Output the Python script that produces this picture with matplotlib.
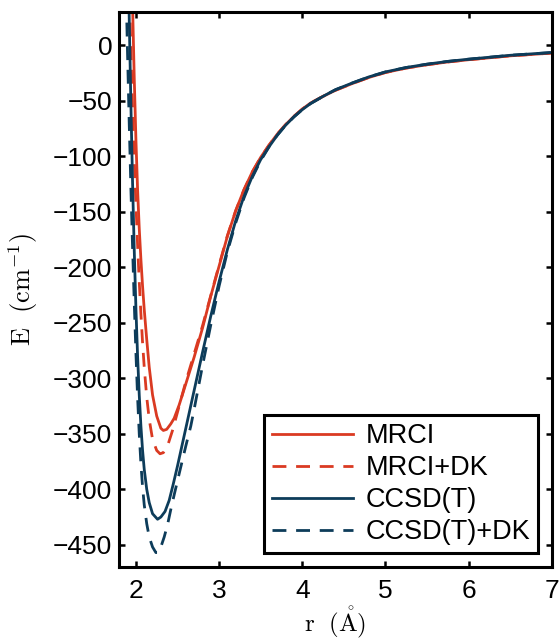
import matplotlib
matplotlib.use("Agg")
import matplotlib.pyplot as plt

# potential energy curves, E in cm^-1 vs r in Angstrom
r_mrci = [1.92, 1.94, 1.96, 1.98, 2.00, 2.02, 2.04, 2.06, 2.08, 2.10, 2.13, 2.16, 2.20,
          2.25, 2.30, 2.33, 2.37, 2.42, 2.46, 2.52, 2.60, 2.70, 2.80, 2.90, 3.00, 3.10,
          3.20, 3.30, 3.40, 3.50, 3.60, 3.70, 3.80, 3.90, 4.00, 4.10, 4.25, 4.40, 4.60,
          4.80, 5.00, 5.25, 5.50, 5.75, 6.00, 6.50, 7.00]
e_mrci = [190, 110, 35, -30, -85, -130, -165, -193, -217, -238, -265, -290, -315,
          -334, -345, -347, -346, -341, -336, -324, -305, -281, -255, -226, -199, -172,
          -149, -130, -114, -101, -90, -80, -71.5, -64, -57.5, -52, -46, -40.5, -34.5,
          -29, -24.5, -20.5, -17.5, -15, -13, -9.5, -7]

r_mrci_dk = [1.90, 1.92, 1.94, 1.96, 1.98, 2.00, 2.02, 2.04, 2.06, 2.08, 2.10, 2.13, 2.16,
             2.20, 2.25, 2.29, 2.33, 2.38, 2.44, 2.52, 2.60, 2.70, 2.80, 2.90, 3.00, 3.10,
             3.20, 3.30, 3.40, 3.50, 3.60, 3.70, 3.80, 3.90, 4.00, 4.10, 4.25, 4.40, 4.60,
             4.80, 5.00, 5.25, 5.50, 5.75, 6.00, 6.50, 7.00]
e_mrci_dk = [120, 55, -5, -58, -103, -143, -180, -213, -242, -268, -290, -317, -337,
             -355, -365, -368, -367, -361, -347, -325, -303, -278, -253, -225.5, -198, -171.5,
             -149, -130, -114, -101, -90, -80, -71.5, -64, -57.5, -52, -46, -40.5, -34.5,
             -29, -24.5, -20.5, -17.5, -15, -13, -9.5, -7]

r_cc = [1.90, 1.92, 1.94, 1.96, 1.98, 2.00, 2.02, 2.04, 2.06, 2.08, 2.10, 2.13, 2.16,
        2.20, 2.26, 2.30, 2.35, 2.40, 2.45, 2.50, 2.55, 2.60, 2.70, 2.80, 2.90, 3.00,
        3.10, 3.20, 3.30, 3.40, 3.50, 3.60, 3.70, 3.80, 3.90, 4.00, 4.10, 4.25, 4.40,
        4.60, 4.80, 5.00, 5.25, 5.50, 5.75, 6.00, 6.50, 7.00]
e_cc = [105, 22, -55, -125, -185, -237, -280, -315, -343, -365, -382, -400, -412,
        -422, -427, -425, -420, -410, -395, -379, -362, -345, -311, -277, -244, -213,
        -184, -158, -136, -118, -103, -91.5, -81, -72, -64.5, -58, -52.5, -46, -40,
        -34, -28.5, -24, -20, -17, -14.5, -12.5, -9, -6.5]

r_cc_dk = [1.86, 1.88, 1.90, 1.92, 1.94, 1.96, 1.98, 2.00, 2.02, 2.04, 2.06, 2.08, 2.10,
           2.13, 2.16, 2.20, 2.24, 2.27, 2.30, 2.34, 2.38, 2.42, 2.46, 2.52, 2.60, 2.66,
           2.70, 2.80, 2.90, 3.00, 3.10, 3.20, 3.30, 3.40, 3.50, 3.60, 3.70, 3.80, 3.90,
           4.00, 4.10, 4.25, 4.40, 4.60, 4.80, 5.00, 5.25, 5.50, 5.75, 6.00, 6.50, 7.00]
e_cc_dk = [125, 55, -10, -72, -130, -183, -232, -277, -317, -350, -377, -398, -414,
           -431, -443, -452, -457, -457, -452, -443, -432, -418, -405, -386, -361, -343,
           -328, -289, -252, -217, -186, -160, -137.5, -119, -104, -91.5, -81, -72, -64.5,
           -58, -52.5, -46, -40, -34, -28.5, -24, -20, -17, -14.5, -12.5, -9, -6.5]

labels = ["MRCI", "MRCI+DK", "CCSD(T)", "CCSD(T)+DK"]
red = "#DA3A22"
blue = "#0D3C5A"

plt.rcParams["font.family"] = ["Liberation Sans", "DejaVu Sans"]
plt.rcParams["mathtext.fontset"] = "cm"

fig = plt.figure(figsize=(5.59, 6.39), dpi=100)
ax = fig.add_axes([0.2134, 0.1127, 0.7735, 0.8685])

dash = (5, 3.5)
ax.plot(r_mrci, e_mrci, color=red, lw=2, label=labels[0])
ax.plot(r_mrci_dk, e_mrci_dk, color=red, lw=2, dashes=dash, label=labels[1])
ax.plot(r_cc, e_cc, color=blue, lw=2, label=labels[2])
ax.plot(r_cc_dk, e_cc_dk, color=blue, lw=2, dashes=dash, label=labels[3])

ax.set_xlim(1.8, 7)
ax.set_ylim(-470, 30)
ax.set_xticks([2, 3, 4, 5, 6, 7])
ax.set_yticks(list(range(0, -451, -50)))

for s in ax.spines.values():
    s.set_linewidth(2.2)
ax.tick_params(direction="in", top=True, right=True, length=4, width=1.8,
               labelsize=19)
ax.tick_params(axis="x", pad=9)
ax.tick_params(axis="y", pad=5)

ax.set_xlabel(r"$\mathrm{r\ \ (\mathring{A})}$", fontsize=18, labelpad=0.5)
ax.set_ylabel(r"$\mathrm{E\ \ (cm^{-1})}$", fontsize=19, labelpad=9)

leg = ax.legend(loc="lower right", fontsize=19.5, fancybox=False, framealpha=1,
                edgecolor="black", handlelength=3.0, handletextpad=0.45,
                labelspacing=0.22, borderpad=0.3, borderaxespad=0.5)
leg.get_frame().set_linewidth(2.2)

fig.savefig("out.png", dpi=100)
